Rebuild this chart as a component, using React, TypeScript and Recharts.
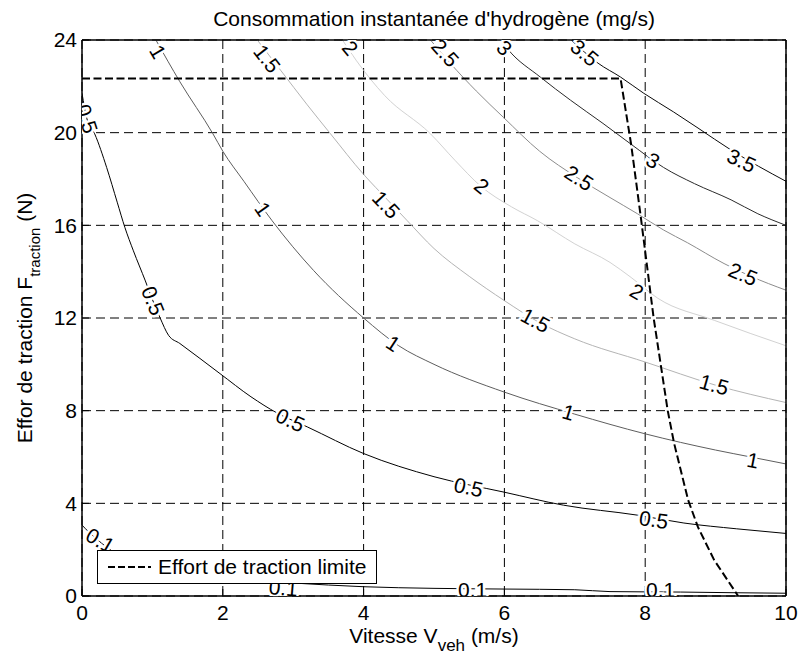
import { ComposedChart, Line, Scatter, XAxis, YAxis, CartesianGrid } from "recharts"

const FONT = "'Liberation Sans', Arial, Helvetica, sans-serif"
const FS = 21

const xTicks = [0, 2, 4, 6, 8, 10]
const yTicks = [0, 4, 8, 12, 16, 20, 24]

// iso-consumption contours (mg/s) as [speed, force]
const c01: [number, number][] = [
  [0, 3.06], [0.1, 2.75], [0.25, 2.35], [0.5, 1.8], [0.9, 1.3], [1.5, 0.95],
  [2.2, 0.7], [3.0, 0.56], [4.0, 0.4], [5.0, 0.33], [6.0, 0.3], [7.0, 0.27],
  [7.5, 0.19], [8.5, 0.17], [9.3, 0.14], [10, 0.12],
]
const c05: [number, number][] = [
  [0, 21.7], [0.07, 20.6], [0.18, 19.95], [0.35, 18.5], [0.5, 17], [0.61, 15.9],
  [0.73, 14.9], [0.9, 13.6], [1.0, 12.8], [1.11, 12.0], [1.23, 11.25], [1.39, 10.9],
  [1.96, 9.6], [2.4, 8.6], [2.77, 7.9], [3.2, 7.3], [4.0, 6.15], [5.0, 5.15],
  [6.0, 4.48], [6.84, 3.92], [7.89, 3.49], [8.55, 3.15], [9.3, 2.9], [10, 2.7],
]
const c1: [number, number][] = [
  [1.05, 24], [1.39, 22.2], [1.86, 19.95], [2.0, 19.2], [2.3, 17.9], [2.7, 16.2],
  [3.29, 14.05], [4.0, 12.0], [4.5, 10.8], [5.0, 10.0], [6.0, 8.8], [7.0, 7.85],
  [8.0, 7.0], [9.0, 6.3], [9.5, 6.0], [10, 5.7],
]
const c15: [number, number][] = [
  [2.49, 24], [2.82, 22.7], [3.2, 21.2], [3.53, 19.95], [4.0, 18.2], [4.34, 17.1],
  [4.62, 16.2], [5.0, 15.0], [5.5, 13.8], [6.0, 12.75], [6.5, 11.8], [7.0, 11.1],
  [8.0, 10.1], [9.0, 9.1], [10, 8.35],
]
const c2: [number, number][] = [
  [3.7, 24], [3.9, 23.1], [4.3, 21.6], [4.95, 19.95], [5.3, 18.8], [5.66, 17.7],
  [6.1, 16.8], [6.47, 16.2], [7.0, 15.2], [7.5, 14.4], [7.8, 13.75], [8.18, 12.85],
  [8.98, 11.9], [10, 10.8],
]
const c25: [number, number][] = [
  [4.95, 24], [5.23, 23.0], [5.6, 21.8], [5.99, 20.65], [6.5, 19.2], [7.04, 18.05],
  [7.5, 17.2], [7.89, 16.5], [8.26, 15.8], [8.6, 15.25], [9.12, 14.35], [9.5, 13.8],
  [10, 13.2],
]
const c3: [number, number][] = [
  [5.95, 24], [6.05, 23.6], [6.51, 22.4], [6.94, 21.4], [7.4, 20.4], [7.8, 19.5],
  [8.26, 18.5], [8.7, 17.8], [9.22, 17.1], [9.6, 16.5], [10, 16.0],
]
const c35: [number, number][] = [
  [6.95, 24], [7.33, 23.0], [7.65, 22.4], [7.98, 21.7], [8.4, 20.9], [8.75, 20.2],
  [9.22, 19.25], [10, 17.9],
]

// traction force limit
const limit: [number, number][] = [
  [0, 22.34], [7.65, 22.34], [7.8, 19.5], [7.94, 16.3], [8.12, 12.0], [8.32, 8.0],
  [8.41, 6.6], [8.61, 4.14], [8.75, 2.97], [8.98, 1.55], [9.32, 0],
]

const contours = [
  { name: "0.1", pts: c01 },
  { name: "0.5", pts: c05 },
  { name: "1", pts: c1 },
  { name: "1.5", pts: c15 },
  { name: "2", pts: c2 },
  { name: "2.5", pts: c25 },
  { name: "3", pts: c3 },
  { name: "3.5", pts: c35 },
]

const COLORS: Record<string, string> = {
  "0.1": "#000000",
  "0.5": "#000000",
  "1": "#5e5e5e",
  "1.5": "#b4b4b4",
  "2": "#d2d2d2",
  "2.5": "#8c8c8c",
  "3": "#2a2a2a",
  "3.5": "#0a0a0a",
}

// inline contour labels [speed, force, text]
const labelPts: [number, number, string][] = [
  [0.07, 20.6, "0.5"], [1.01, 12.75, "0.5"], [2.96, 7.6, "0.5"], [5.49, 4.7, "0.5"], [8.12, 3.3, "0.5"],
  [0.26, 2.4, "0.1"], [2.86, 0.35, "0.1"], [5.55, 0.26, "0.1"], [8.22, 0.26, "0.1"],
  [1.08, 23.5, "1"], [2.57, 16.7, "1"], [4.42, 10.9, "1"], [6.91, 7.93, "1"], [9.53, 5.86, "1"],
  [2.63, 23.2, "1.5"], [4.32, 16.9, "1.5"], [6.44, 11.9, "1.5"], [8.98, 9.13, "1.5"],
  [3.81, 23.66, "2"], [5.68, 17.7, "2"], [7.88, 13.15, "2"],
  [5.16, 23.45, "2.5"], [7.06, 18.05, "2.5"], [9.39, 13.9, "2.5"],
  [6.0, 23.66, "3"], [8.11, 18.8, "3"],
  [7.14, 23.45, "3.5"], [9.37, 18.8, "3.5"],
]
const LABEL_ANGLES = [
  72, 68, 25, 12, 8,
  30, 5, 0, 0,
  59, 55, 33, 17, 11,
  52, 47, 28, 16,
  50, 39, 30,
  48, 33, 23,
  45, 30,
  40, 25,
]

const toXY = (pts: [number, number][]) => pts.map(([x, y]) => ({ x, y }))
const labelData = labelPts.map(([x, y, text], i) => ({ x, y, text, angle: LABEL_ANGLES[i] }))

const ContourText = (props: any) => {
  const { cx, cy, payload } = props
  if (cx == null || cy == null) return null
  return (
    <text
      x={cx}
      y={cy}
      transform={`rotate(${payload.angle} ${cx} ${cy})`}
      textAnchor="middle"
      dominantBaseline="central"
      fontSize={FS}
      fontFamily={FONT}
      fill="#000"
      stroke="#fff"
      strokeWidth={5}
      paintOrder="stroke"
    >
      {payload.text}
    </text>
  )
}

const XLabel = (props: any) => {
  const { viewBox } = props
  const cx = viewBox.x + viewBox.width / 2
  return (
    <text x={cx} y={viewBox.y + 47} textAnchor="middle" fontSize={FS} fontFamily={FONT} fill="#000">
      <tspan>Vitesse V</tspan>
      <tspan dy={8} fontSize={17}>veh</tspan>
      <tspan dy={-8}> (m/s)</tspan>
    </text>
  )
}

const YLabel = (props: any) => {
  const { viewBox } = props
  const cy = viewBox.y + viewBox.height / 2
  const x = 32
  return (
    <text x={x} y={cy} transform={`rotate(-90 ${x} ${cy})`} textAnchor="middle" fontSize={FS} fontFamily={FONT} fill="#000">
      <tspan>Effor de traction F</tspan>
      <tspan dy={8} fontSize={15}>traction</tspan>
      <tspan dy={-8}> (N)</tspan>
    </text>
  )
}

const tickStyle = { fontSize: FS, fontFamily: FONT, fill: "#000" }
const axisStroke = { stroke: "#000", strokeWidth: 1.5 }
const tickStroke = { stroke: "#000", strokeWidth: 1 }

export default function App() {
  return (
    <div style={{ position: "absolute", left: 0, top: 0, width: 798, height: 657, background: "#fff" }}>
      <div
        style={{
          position: "absolute",
          left: 0,
          top: 8,
          width: 868,
          textAlign: "center",
          fontFamily: FONT,
          fontSize: FS,
          lineHeight: "21px",
          color: "#000",
          whiteSpace: "nowrap",
        }}
      >
        Consommation instantanée d'hydrogène (mg/s)
      </div>
      <ComposedChart width={798} height={657} margin={{ top: 39, right: 11, left: 0, bottom: 0 }}>
        <CartesianGrid stroke="#000" strokeDasharray="9 5" strokeWidth={1} />
        <XAxis
          dataKey="x"
          type="number"
          domain={[0, 10]}
          ticks={xTicks}
          allowDataOverflow
          height={61}
          tickSize={-7}
          tickMargin={16}
          tick={tickStyle}
          axisLine={axisStroke}
          tickLine={tickStroke}
          label={<XLabel />}
        />
        <XAxis
          xAxisId="top"
          orientation="top"
          type="number"
          domain={[0, 10]}
          ticks={xTicks}
          height={1}
          tickSize={-7}
          tick={false}
          axisLine={axisStroke}
          tickLine={tickStroke}
        />
        <YAxis
          type="number"
          domain={[0, 24]}
          ticks={yTicks}
          allowDataOverflow
          width={82}
          tickSize={-7}
          tickMargin={12}
          tick={tickStyle}
          axisLine={axisStroke}
          tickLine={tickStroke}
          label={<YLabel />}
        />
        <YAxis
          yAxisId="right"
          orientation="right"
          type="number"
          domain={[0, 24]}
          ticks={yTicks}
          width={1}
          tickSize={-7}
          tick={false}
          axisLine={axisStroke}
          tickLine={tickStroke}
        />
        {contours.map((c) => (
          <Line
            key={c.name}
            data={toXY(c.pts)}
            dataKey="y"
            type="monotoneX"
            stroke={COLORS[c.name]}
            strokeWidth={1}
            dot={false}
            activeDot={false}
            isAnimationActive={false}
          />
        ))}
        <Scatter data={labelData} dataKey="y" shape={ContourText} isAnimationActive={false} />
        <Line
          data={toXY(limit)}
          dataKey="y"
          type="linear"
          stroke="#000"
          strokeWidth={2}
          strokeDasharray="8 3.5"
          dot={false}
          activeDot={false}
          isAnimationActive={false}
        />
      </ComposedChart>
      <div
        style={{
          position: "absolute",
          left: 97,
          top: 550,
          width: 278,
          height: 32,
          border: "1px solid #000",
          background: "#fff",
          fontFamily: FONT,
          fontSize: FS,
          color: "#000",
          display: "flex",
          alignItems: "center",
        }}
      >
        <svg width={60} height={32} style={{ display: "block" }}>
          <line x1={10} y1={16} x2={53} y2={16} stroke="#000" strokeWidth={2} strokeDasharray="7 3" />
        </svg>
        <span style={{ whiteSpace: "nowrap" }}>Effort de traction limite</span>
      </div>
    </div>
  )
}
